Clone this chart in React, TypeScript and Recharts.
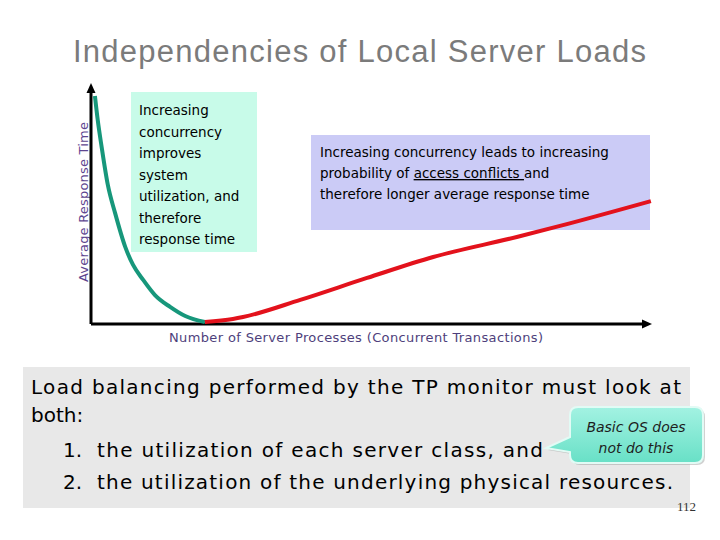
import { LineChart, Line, XAxis, YAxis, ReferenceLine } from 'recharts';

// curve readings (x: server processes, y: response time, both 0-100)
const fallX = [0.7, 1.2, 1.9, 3.0, 4.3, 6.1, 7.5, 9.3, 11.4, 14.1, 16.8, 20.3];
const fallY = [94.6, 84.6, 73.4, 57.7, 46, 32, 24.5, 18.3, 12, 7.1, 3.3, 0.8];
const riseX = [20.3, 25.3, 27.1, 37.3, 49.2, 61, 75.9, 83.6, 99.8];
const riseY = [0.8, 2.1, 2.9, 10, 19.1, 27.8, 36.1, 40.7, 51];

const title = 'Independencies of Local Server Loads';
const xLabel = 'Number of Server Processes (Concurrent Transactions)';
const yLabel = 'Average Response Time';
const leftNote = ['Increasing', 'concurrency', 'improves', 'system', 'utilization, and', 'therefore', 'response time'];
const bullets = ['the utilization of each server class, and', 'the utilization of the underlying physical resources.'];

const fallData = fallX.map((x, i) => ({ x, y: fallY[i] }));
const riseData = riseX.map((x, i) => ({ x, y: riseY[i] }));

const ArrowLine = (props: any) => {
  const { x1, y1, x2, y2 } = props;
  const a = Math.atan2(y2 - y1, x2 - x1);
  const len = 10, half = 4.5;
  const bx = x2 - len * Math.cos(a), by = y2 - len * Math.sin(a);
  const px = -Math.sin(a) * half, py = Math.cos(a) * half;
  return (
    <g>
      <line x1={x1} y1={y1} x2={bx} y2={by} stroke="#000" strokeWidth={3} />
      <polygon points={`${x2},${y2} ${bx + px},${by + py} ${bx - px},${by - py}`} fill="#000" />
    </g>
  );
};

const sans = 'DejaVu Sans';

export default function App() {
  return (
    <div style={{ position: 'absolute', left: 0, top: 0, width: 720, height: 540, background: '#fff' }}>
      <svg width={720} height={540} style={{ position: 'absolute', left: 0, top: 0 }}>
        <text x={359.5} y={62} textAnchor="middle" fontFamily="Liberation Sans" fontSize={31} fill="#7b7b7b" textLength={573}>{title}</text>

        <rect x={131} y={92} width={126} height={160} fill="#c8fbe9" />
        {leftNote.map((t, i) => (
          <text key={t} x={139} y={115 + i * 21.5} fontFamily={sans} fontSize={13.5} fill="#000">{t}</text>
        ))}

        <rect x={311} y={135} width={339} height={95} fill="#cbcbf6" />
        <text fontFamily={sans} fontSize={13.5} fill="#000">
          <tspan x={320} y={157}>Increasing concurrency leads to increasing</tspan>
          <tspan x={320} y={178}>probability of <tspan textDecoration="underline">access conflicts </tspan>and</tspan>
          <tspan x={320} y={199}>therefore longer average response time</tspan>
        </text>

        <text transform="translate(88,202) rotate(-90)" textAnchor="middle" fontFamily={sans} fontSize={13} fill="#5e4690" textLength={160}>{yLabel}</text>
        <text x={169} y={342} fontFamily={sans} fontSize={13} fill="#4e3f7c" textLength={374}>{xLabel}</text>

        <rect x={23} y={367} width={667} height={141} fill="#e8e8e8" />
        <g fontFamily={sans} fontSize={20} fill="#000">
          <text x={31} y={394} textLength={650}>Load balancing performed by the TP monitor must look at</text>
          <text x={31} y={422}>both:</text>
          {bullets.map((b, i) => (
            <g key={b}>
              <text x={63} y={457 + i * 32}>{`${i + 1}.`}</text>
              <text x={97} y={457 + i * 32} textLength={i === 0 ? 446 : 576}>{b}</text>
            </g>
          ))}
        </g>
        <text x={677} y={511} fontFamily="Liberation Serif" fontSize={13} fill="#333">112</text>

        <defs>
          <linearGradient id="callout" x1="0" y1="0" x2="0" y2="1">
            <stop offset="0" stopColor="#a3f2e2" />
            <stop offset="1" stopColor="#68e0c6" />
          </linearGradient>
        </defs>
        <path d="M580,409 H697 Q705,409 705,417 V457 Q705,465 697,465 H580 Q572,465 572,457 V454 L548,450 L572,439 V417 Q572,409 580,409 Z" fill="#9a9a9a" opacity={0.45} />
        <path d="M578,407 H695 Q703,407 703,415 V455 Q703,463 695,463 H578 Q570,463 570,455 V452 L546,448 L570,437 V415 Q570,407 578,407 Z" fill="url(#callout)" stroke="#e2fbf5" strokeWidth={2} />
        <text x={636} y={432} textAnchor="middle" fontFamily={sans} fontStyle="italic" fontSize={14} fill="#1e1e1e">Basic OS does</text>
        <text x={636} y={453} textAnchor="middle" fontFamily={sans} fontStyle="italic" fontSize={14} fill="#1e1e1e">not do this</text>
      </svg>

      <div style={{ position: 'absolute', left: 0, top: 0 }}>
        <LineChart width={720} height={540} margin={{ top: 83, right: 68, bottom: 216, left: 91 }}>
          <XAxis type="number" dataKey="x" domain={[0, 100]} hide />
          <YAxis type="number" domain={[0, 100]} hide />
          <ReferenceLine segment={[{ x: 0, y: 0 }, { x: 100, y: 0 }]} ifOverflow="visible" shape={ArrowLine} />
          <ReferenceLine segment={[{ x: 0, y: 0 }, { x: 0, y: 100 }]} ifOverflow="visible" shape={ArrowLine} />
          <Line data={fallData} dataKey="y" type="monotone" stroke="#17977b" strokeWidth={4} dot={false} isAnimationActive={false} />
          <Line data={riseData} dataKey="y" type="monotone" stroke="#e3121c" strokeWidth={4} dot={false} isAnimationActive={false} />
        </LineChart>
      </div>
    </div>
  );
}
